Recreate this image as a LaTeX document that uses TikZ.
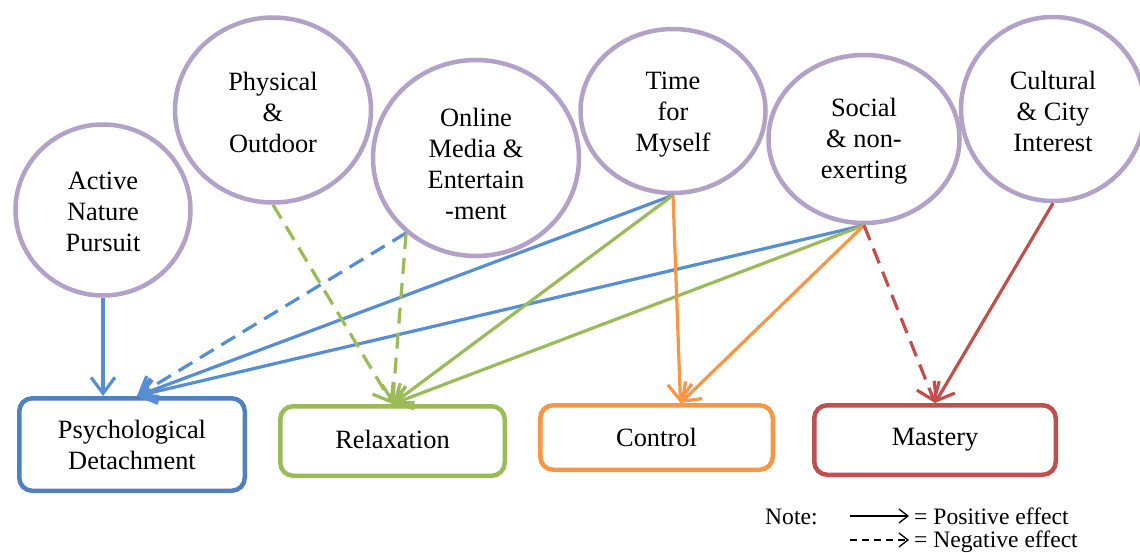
\documentclass[tikz,border=0pt]{standalone}
\usepackage{fontspec}
\setmainfont{Liberation Serif}
\usetikzlibrary{arrows.meta,shapes.geometric}

\definecolor{lilac}{HTML}{B3A2C7}
\definecolor{boxblue}{HTML}{4F81BD}
\definecolor{lineblue}{HTML}{558ED5}
\definecolor{leafgreen}{HTML}{9BBB59}
\definecolor{tangerine}{HTML}{F79646}
\definecolor{brick}{HTML}{C0504D}

\newcommand\mainfs{\fontsize{26.4}{31}\selectfont}
\newcommand\notefs{\fontsize{23.6}{28}\selectfont}

\begin{document}
\begin{tikzpicture}[x=1pt,y=-1pt,
  factor/.style={ellipse, draw=lilac, line width=4.5pt, fill=white,
    inner sep=0pt},
  factortext/.style={inner sep=0pt, align=center, font=\mainfs},
  outcome/.style={rectangle, rounded corners=13pt, line width=4.5pt,
    fill=white, inner sep=0pt, align=center, font=\mainfs},
  link/.style={line width=3.2pt, -{Straight Barb[length=16pt,width=24pt]}},
  neg/.style={dash pattern=on 16pt off 9pt},
  key/.style={line width=1.3pt, black, -{Straight Barb[length=9pt,width=14pt]}},
  keytext/.style={anchor=base west, inner sep=0pt, font=\notefs}
]
\useasboundingbox (0,0) rectangle (1140,552);

% leisure activity groups: outlines
\node[factor, minimum width=175pt, minimum height=171pt] (anp) at (103,210) {};
\node[factor, minimum width=196pt, minimum height=185pt] (phys) at (273,110) {};
\node[factor, minimum width=206pt, minimum height=196pt] (ome) at (476,158) {};
\node[factor, minimum width=185pt, minimum height=164pt] (time) at (673,111) {};
\node[factor, minimum width=191pt, minimum height=168pt] (social) at (864,139) {};
\node[factor, minimum width=184pt, minimum height=184pt] (cult) at (1053,109) {};

% leisure activity groups: labels
\node[factortext] (anpt) at ([yshift=-2pt]anp.center) {Active\\Nature\\Pursuit};
\node[factortext] (physt) at ([yshift=-2pt]phys.center) {Physical\\\&\\Outdoor};
\node[factortext] (omet) at ([yshift=-6pt]ome.center) {Online\\Media \&\\Entertain\\-ment};
\node[factortext] (timet) at ([yshift=-4pt]time.center) {Time\\for\\Myself};
\node[factortext] (socialt) at ([yshift=-2pt]social.center) {Social\\\& non-\\exerting};
\node[factortext] (cultt) at ([yshift=-2pt]cult.center) {Cultural\\\& City\\Interest};

% recovery experiences
\node[outcome, draw=boxblue, minimum width=225.5pt, minimum height=92.5pt] (pd)
  at (132,444.5) {Psychological\\Detachment};
\node[outcome, draw=leafgreen, minimum width=224.5pt, minimum height=69.5pt] (relax)
  at (392.5,441) {\raisebox{3pt}{Relaxation}};
\node[outcome, draw=tangerine, minimum width=232.5pt, minimum height=64.5pt] (ctrl)
  at (656.5,437.5) {Control};
\node[outcome, draw=brick, minimum width=241.5pt, minimum height=69.5pt] (mast)
  at (935,440) {\raisebox{2pt}{Mastery}};

% effects on psychological detachment
\draw[link, lineblue] (anp.south) -- (anp.south |- pd.north);
\draw[link, lineblue, neg] (ome.-133) -- ([xshift=5pt]pd.north);
\draw[link, lineblue] (time.south) -- ([xshift=5pt]pd.north);
\draw[link, lineblue] (social.south) -- ([xshift=5pt]pd.north);

% effects on relaxation
\draw[link, leafgreen, neg] (phys.south) -- (relax.north);
\draw[link, leafgreen, neg] (ome.-133) -- (relax.north);
\draw[link, leafgreen] (time.south) -- (relax.north);
\draw[link, leafgreen] (social.south) -- (relax.north);

% effects on control
\draw[link, tangerine] (time.south) -- ([xshift=24pt]ctrl.north);
\draw[link, tangerine] (social.south) -- ([xshift=24pt]ctrl.north);

% effects on mastery
\draw[link, brick, neg] (social.south) -- (mast.north);
\draw[link, brick] (cult.south) -- (mast.north);

% key
\node[keytext] (note) at (765,524) {Note:};
\node[keytext] (pos) at (914,524) {= Positive effect};
\node[keytext] (negt) at (914,547) {= Negative effect};
\coordinate (k1) at (850,516);
\coordinate (k2) at (850,540);
\draw[key] (k1) -- ([xshift=-5pt]pos.west |- k1);
\draw[key, dash pattern=on 7pt off 5pt] (k2) -- ([xshift=-5pt]negt.west |- k2);
\end{tikzpicture}
\end{document}
